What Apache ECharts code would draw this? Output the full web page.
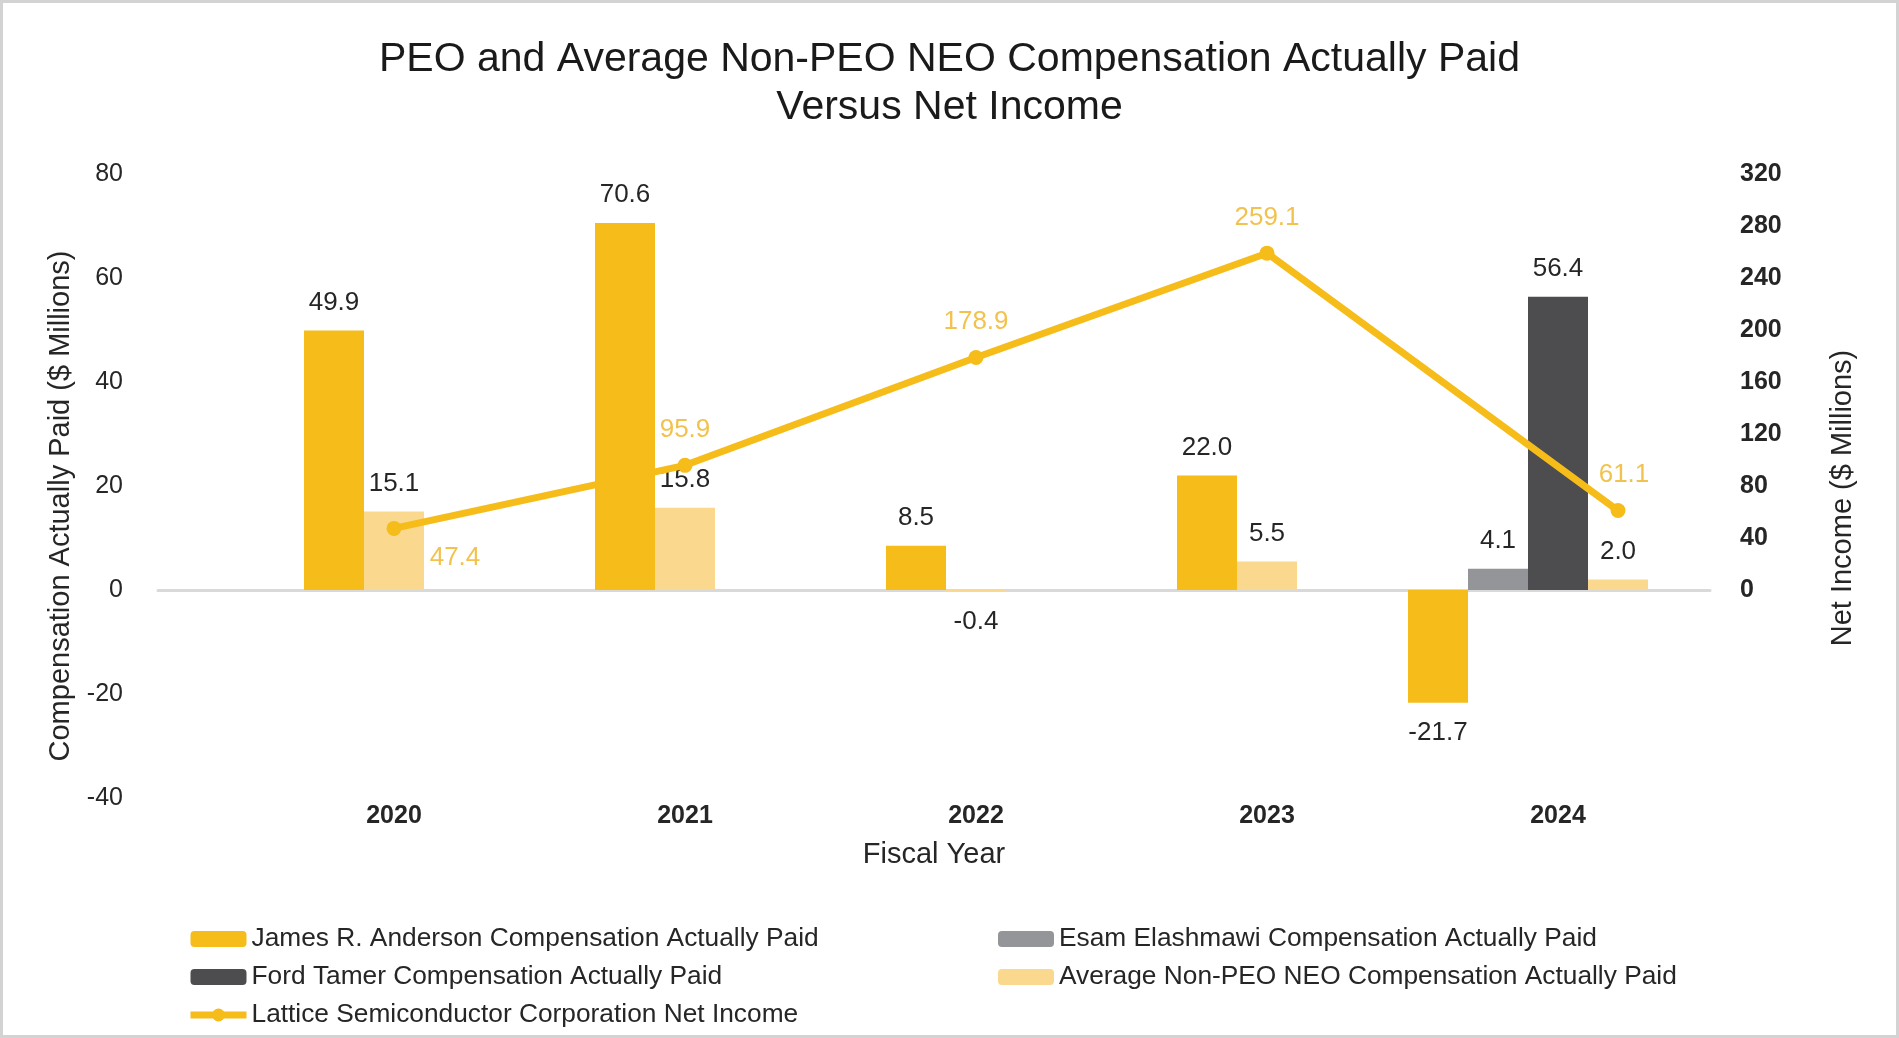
<!DOCTYPE html>
<html>
<head>
<meta charset="utf-8">
<script src="https://cdn.jsdelivr.net/npm/echarts@6/dist/echarts.min.js"></script>
<style>
  html, body { margin: 0; padding: 0; background: #fff; }
  #chart { width: 1899px; height: 1038px; }
  #frame { position: absolute; left: 0; top: 0; width: 1899px; height: 1038px; box-sizing: border-box; border: 3px solid #D3D3D3; pointer-events: none; }
</style>
</head>
<body>
<div id="chart"></div>
<div id="frame"></div>
<script>
// ---------- data ----------
const years = ['2020', '2021', '2022', '2023', '2024'];
const anderson = [49.9, 70.6, 8.5, 22.0, -21.7];
const esam = [null, null, null, null, 4.1];
const ford = [null, null, null, null, 56.4];
const avgNeo = [15.1, 15.8, -0.4, 5.5, 2.0];
const netIncome = [47.4, 95.9, 178.9, 259.1, 61.1];
const leftTicks = { min: -40, max: 80, interval: 20 };
const rightTicks = { min: 0, max: 320, interval: 40 };

const names = {
  anderson: 'James R. Anderson Compensation Actually Paid',
  esam: 'Esam Elashmawi Compensation Actually Paid',
  ford: 'Ford Tamer Compensation Actually Paid',
  avg: 'Average Non-PEO NEO Compensation Actually Paid',
  ni: 'Lattice Semiconductor Corporation Net Income'
};

// ---------- layout / style ----------
const FONT = "'Liberation Sans', Arial, sans-serif";
const TXT = '#262626';
const colors = { anderson: '#F5BC1A', esam: '#939598', ford: '#4D4D4F', avg: '#FAD98E', ni: '#F5BC1A', niLabel: '#F2C24E' };
const G1 = { left: 218.5, right: 1899 - 1673.5 };
const bandWidth = (1899 - G1.left - G1.right) / years.length;
const barWidth = 60;
const nSlots = 4;
// slot position of each bar within its year group
const slotOf = {
  anderson: [1, 1, 1, 1, 0],
  esam: [1, 1, 1, 1, 1],
  ford: [2, 2, 2, 2, 2],
  avg: [2, 2, 2, 2, 3]
};
const valuesOf = { anderson, esam, ford, avg: avgNeo };
const order = ['anderson', 'esam', 'ford', 'avg'];

function barItem(v) {
  if (v == null) return null;
  return { value: v, label: { position: v < 0 ? 'bottom' : 'top', distance: v < 0 ? 17 : 15 } };
}

const barSeries = [];
for (let s = 0; s < nSlots; s++) {
  order.forEach(key => {
    const vals = valuesOf[key];
    const data = vals.map((v, i) => (slotOf[key][i] === s ? barItem(v) : null));
    if (data.some(d => d !== null)) {
      barSeries.push({
        type: 'bar',
        name: names[key],
        stack: 'slot' + s,
        xAxisIndex: 1,
        yAxisIndex: 2,
        barWidth: barWidth,
        barGap: '0%',
        itemStyle: { color: colors[key] },
        label: {
          show: true,
          color: TXT,
          fontSize: 26,
          fontFamily: FONT,
          formatter: p => Number(p.value).toFixed(1)
        },
        emphasis: { disabled: true },
        data: data
      });
    }
  });
}

// line points sit at the centre of the Average Non-PEO bar of each year
const lineData = netIncome.map((v, i) => {
  const x = i + (slotOf.avg[i] - (nSlots - 1) / 2) * barWidth / bandWidth;
  const item = { value: [x, v] };
  if (i === 0) item.label = { offset: [61, 65] };
  if (i === netIncome.length - 1) item.label = { offset: [6, 0] };
  return item;
});

const legendCommon = {
  orient: 'vertical', top: 926, padding: 0, itemWidth: 56, itemHeight: 16, itemGap: 12,
  textStyle: { fontFamily: FONT, fontSize: 26.3, color: TXT, lineHeight: 26 },
  selectedMode: false
};

const chart = echarts.init(document.getElementById('chart'));
chart.setOption({
  animation: false,
  backgroundColor: '#fff',
  textStyle: { fontFamily: FONT },
  title: {
    text: 'PEO and Average Non-PEO NEO Compensation Actually Paid\nVersus Net Income',
    left: 'center',
    top: 31,
    textStyle: { fontFamily: FONT, fontSize: 41, fontWeight: 'normal', color: '#1A1A1A', lineHeight: 48 }
  },
  legend: [
    Object.assign({}, legendCommon, {
      left: 187,
      data: [
        names.anderson,
        names.ford,
        { name: names.ni, lineStyle: { width: 7 }, itemStyle: { color: colors.ni } }
      ]
    }),
    Object.assign({}, legendCommon, {
      left: 998,
      data: [names.esam, names.avg]
    })
  ],
  grid: [
    { left: 158, right: 189, top: 174, bottom: 240, outerBoundsMode: 'none' },
    { left: G1.left, right: G1.right, top: 174, bottom: 240, outerBoundsMode: 'none' }
  ],
  xAxis: [
    {
      gridIndex: 0, type: 'value', min: -1, max: 1,
      axisLine: { show: true, onZero: true, lineStyle: { color: '#D9D9D9', width: 3 } },
      axisTick: { show: false }, axisLabel: { show: false }, splitLine: { show: false }
    },
    {
      gridIndex: 1, type: 'category', data: years,
      axisLine: { show: false }, axisTick: { show: false },
      axisLabel: {
        fontFamily: FONT, fontSize: 25, fontWeight: 'bold', color: TXT, margin: 6,
        padding: [0, 0, 0, barWidth]
      },
      name: 'Fiscal Year', nameLocation: 'middle', nameGap: 42,
      nameTextStyle: { fontFamily: FONT, fontSize: 29, color: TXT, padding: [0, 24, 0, 0] }
    },
    {
      gridIndex: 1, type: 'value', min: -0.5, max: years.length - 0.5, show: false
    }
  ],
  yAxis: [
    {
      gridIndex: 0, type: 'value', position: 'left',
      min: leftTicks.min, max: leftTicks.max, interval: leftTicks.interval,
      axisLine: { show: false }, axisTick: { show: false }, splitLine: { show: false },
      axisLabel: { fontFamily: FONT, fontSize: 25, color: TXT, margin: 35 },
      name: 'Compensation Actually Paid ($ Millions)', nameLocation: 'middle', nameGap: 80,
      nameTextStyle: { fontFamily: FONT, fontSize: 29, color: TXT, padding: [0, 40, 0, 0] }
    },
    {
      gridIndex: 0, type: 'value', position: 'right',
      min: -rightTicks.max / 2, max: rightTicks.max, interval: rightTicks.interval,
      axisLine: { show: false }, axisTick: { show: false }, splitLine: { show: false },
      axisLabel: {
        fontFamily: FONT, fontSize: 25, fontWeight: 'bold', color: TXT, margin: 30,
        formatter: v => (v < rightTicks.min ? '' : String(v))
      },
      name: 'Net Income ($ Millions)', nameLocation: 'middle', nameGap: 118,
      nameTextStyle: { fontFamily: FONT, fontSize: 29, color: TXT, padding: [0, 24, 0, 0] }
    },
    {
      gridIndex: 1, type: 'value', min: leftTicks.min, max: leftTicks.max, interval: leftTicks.interval, show: false
    },
    {
      gridIndex: 1, type: 'value', min: -rightTicks.max / 2, max: rightTicks.max, interval: rightTicks.interval, show: false
    }
  ],
  series: barSeries.concat([
    {
      type: 'line',
      name: names.ni,
      xAxisIndex: 2,
      yAxisIndex: 3,
      data: lineData,
      symbol: 'circle',
      symbolSize: 15,
      lineStyle: { color: colors.ni, width: 7 },
      itemStyle: { color: colors.ni },
      label: {
        show: true, position: 'top', distance: 15,
        color: colors.niLabel, fontSize: 26, fontFamily: FONT,
        formatter: p => Number(p.value[1]).toFixed(1)
      },
      emphasis: { disabled: true },
      z: 5
    }
  ])
});
</script>
</body>
</html>
